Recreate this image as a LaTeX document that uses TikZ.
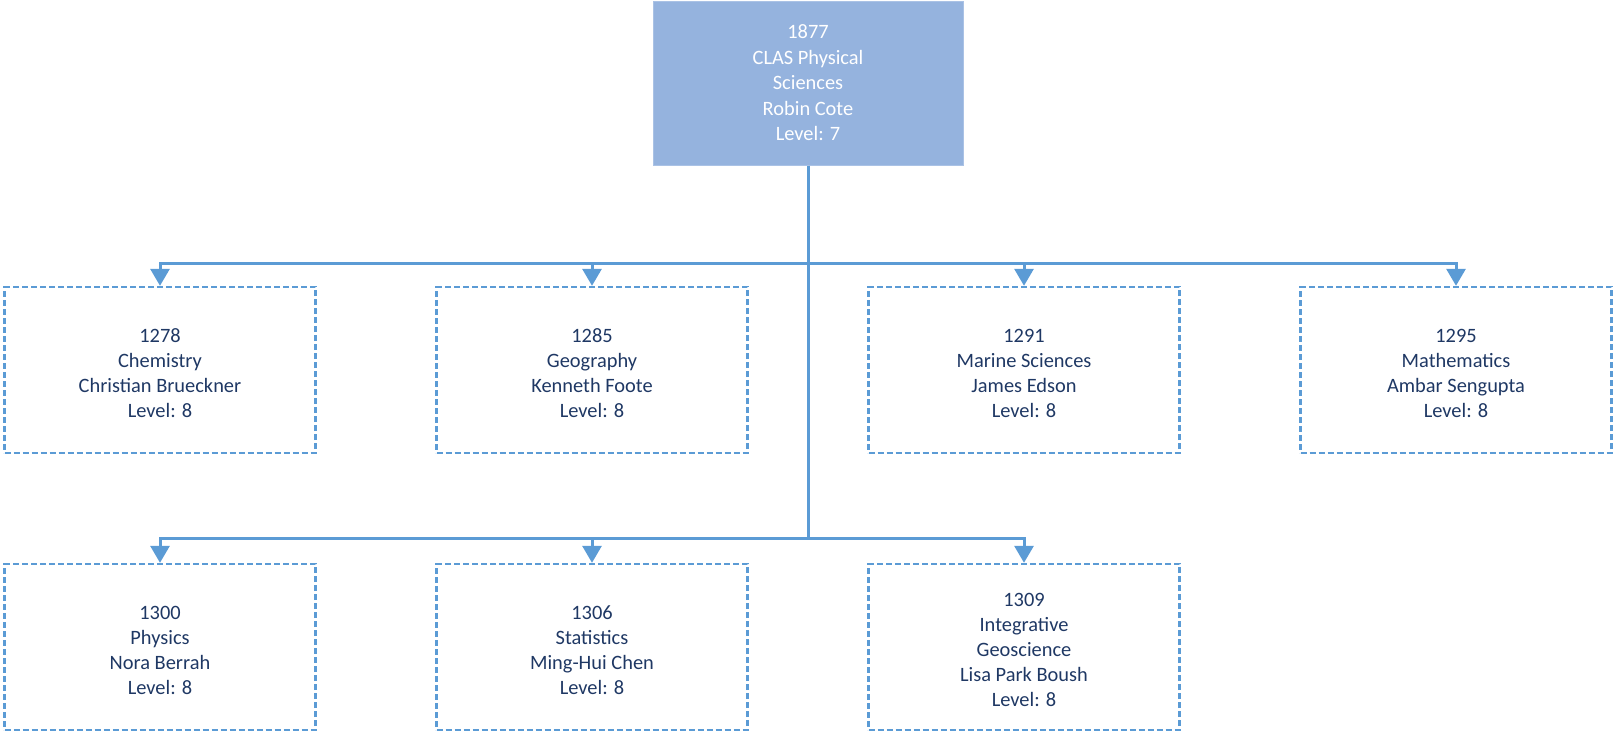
\documentclass[tikz,border=0pt]{standalone}
\usepackage{fontspec}
\setmainfont{Carlito}
\usetikzlibrary{arrows.meta}
\definecolor{linecol}{HTML}{5B9BD5}
\definecolor{topfill}{HTML}{95B3DE}
\definecolor{txtcol}{HTML}{1F3864}
\newcommand{\tallstrut}{\rule{0pt}{20pt}}
\tikzset{
  topbox/.style={fill=topfill, draw=topfill!80!white, line width=1pt, minimum width=310pt, minimum height=164pt, align=center, text=white, font=\fontsize{20.4}{25.5}\selectfont, inner sep=0pt},
  childbox/.style={draw=linecol, dash pattern=on 6pt off 3pt, line width=2.4pt, minimum width=311pt, minimum height=166pt, align=center, text=txtcol, font=\fontsize{20.4}{25}\selectfont, inner sep=0pt},
  conn/.style={draw=linecol, line width=3pt},
  arr/.style={conn, -{Triangle[width=19pt,length=17pt]}, shorten >=0pt},
}
\begin{document}
\begin{tikzpicture}[x=1pt,y=-1pt]
\useasboundingbox (0,0) rectangle (1613,732);
\node[topbox] (top) at (808,83) {1877\\CLAS Physical\\Sciences\\Robin Cote\\Level: 7};
\node[childbox] (chem) at (160,370) {\tallstrut 1278\\Chemistry\\Christian Brueckner\\Level: 8};
\node[childbox] (geog) at (592,370) {\tallstrut 1285\\Geography\\Kenneth Foote\\Level: 8};
\node[childbox] (mar) at (1024,370) {\tallstrut 1291\\Marine Sciences\\James Edson\\Level: 8};
\node[childbox] (math) at (1456,370) {\tallstrut 1295\\Mathematics\\Ambar Sengupta\\Level: 8};
\node[childbox] (phys) at (160,647) {\tallstrut 1300\\Physics\\Nora Berrah\\Level: 8};
\node[childbox] (stat) at (592,647) {\tallstrut 1306\\Statistics\\Ming-Hui Chen\\Level: 8};
\node[childbox] (integ) at (1024,647) {\tallstrut 1309\\Integrative\\Geoscience\\Lisa Park Boush\\Level: 8};
\coordinate (bus1) at (808,263);
\coordinate (bus2) at (808,538);
\draw[conn] (top.south) -- ([yshift=1.5pt]bus2);
\foreach \c in {chem,geog,mar,math} {\draw[arr] (bus1) -| (\c.north);}
\foreach \c in {phys,stat,integ} {\draw[arr] (bus2) -| (\c.north);}
\end{tikzpicture}
\end{document}
